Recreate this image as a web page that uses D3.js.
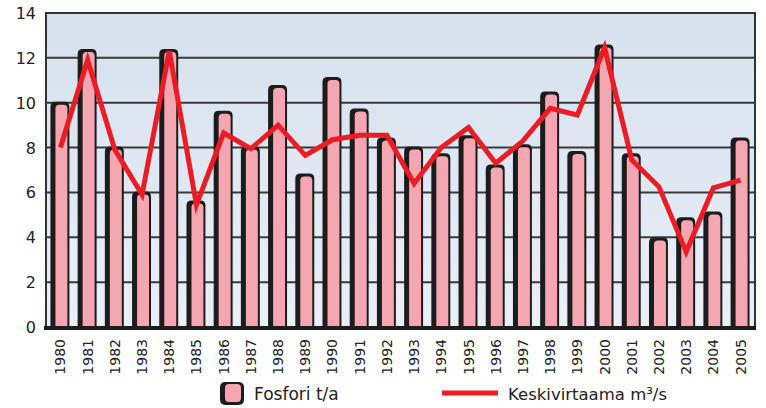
<!DOCTYPE html>
<html>
<head>
<meta charset="utf-8">
<script src="https://cdn.jsdelivr.net/npm/d3@7"></script>
<style>
  body { margin: 0; background: #fff; }
  text { font-family: "DejaVu Sans", sans-serif; fill: #222; }
</style>
</head>
<body>
<div id="chart"></div>
<script>
// data
const years = ["1980","1981","1982","1983","1984","1985","1986","1987","1988","1989",
  "1990","1991","1992","1993","1994","1995","1996","1997","1998","1999",
  "2000","2001","2002","2003","2004","2005"];
const fosfori = [10.0, 12.35, 8.0, 6.0, 12.35, 5.6, 9.6, 8.0, 10.75, 6.8,
  11.1, 9.7, 8.4, 8.0, 7.7, 8.5, 7.2, 8.1, 10.45, 7.8,
  12.55, 7.7, 3.95, 4.85, 5.1, 8.4];
const virtaama = [8.0, 11.9, 7.9, 5.9, 12.3, 5.45, 8.65, 7.95, 9.0, 7.65,
  8.35, 8.55, 8.55, 6.4, 8.0, 8.9, 7.3, 8.3, 9.75, 9.45,
  12.45, 7.45, 6.25, 3.35, 6.2, 6.55];
const yTicks = [0, 2, 4, 6, 8, 10, 12, 14];
const legendLabels = ["Fosfori t/a", "Keskivirtaama m³/s"];

const W = 766, H = 408;
const plot = { left: 46, right: 755, top: 13, bottom: 327 };

const svg = d3.select("#chart").append("svg")
  .attr("width", W).attr("height", H);

const x = d3.scaleBand()
  .domain(years)
  .range([plot.left, plot.right])
  .paddingInner(0.34)
  .paddingOuter(0.2);

const y = d3.scaleLinear()
  .domain([0, 14])
  .range([plot.bottom, plot.top]);

// background gradient
const defs = svg.append("defs");
const grad = defs.append("linearGradient").attr("id", "bg")
  .attr("x1", 0).attr("y1", 0).attr("x2", 0).attr("y2", 1);
grad.append("stop").attr("offset", "0%").attr("stop-color", "#d6e1ee");
grad.append("stop").attr("offset", "100%").attr("stop-color", "#e8eff7");

svg.append("rect")
  .attr("x", plot.left).attr("y", plot.top)
  .attr("width", plot.right - plot.left)
  .attr("height", plot.bottom - plot.top)
  .attr("fill", "url(#bg)");

// grid lines
svg.append("g").selectAll("line")
  .data(yTicks.filter(d => d > 0 && d < 14))
  .join("line")
  .attr("x1", plot.left).attr("x2", plot.right)
  .attr("y1", d => y(d)).attr("y2", d => y(d))
  .attr("stroke", "#3a3a3a")
  .attr("stroke-width", 2);

// y axis labels
svg.append("g").selectAll("text")
  .data(yTicks)
  .join("text")
  .attr("x", 36)
  .attr("y", d => y(d) + 6)
  .attr("text-anchor", "end")
  .style("font-size", "16px")
  .text(d => d);

// bars: dark shadow then pink body
const barPath = (x0, w, top, bottom, r) =>
  `M${x0},${bottom} L${x0},${top + r} Q${x0},${top} ${x0 + r},${top} ` +
  `L${x0 + w - r},${top} Q${x0 + w},${top} ${x0 + w},${top + r} L${x0 + w},${bottom} Z`;

const bars = svg.append("g");
bars.selectAll("path.shadow")
  .data(years)
  .join("path")
  .attr("class", "shadow")
  .attr("d", (d, i) => barPath(x(d) - 1, x.bandwidth() + 1, y(fosfori[i]) - 1, plot.bottom, 5))
  .attr("fill", "#1c1c1c");

bars.selectAll("path.body")
  .data(years)
  .join("path")
  .attr("class", "body")
  .attr("d", (d, i) => barPath(x(d) + 4, x.bandwidth() - 6, y(fosfori[i]) + 2, plot.bottom, 4))
  .attr("fill", "#f4a7b1");

// frame
svg.append("rect")
  .attr("x", plot.left).attr("y", plot.top)
  .attr("width", plot.right - plot.left)
  .attr("height", plot.bottom - plot.top)
  .attr("fill", "none")
  .attr("stroke", "#333")
  .attr("stroke-width", 2);

svg.append("line")
  .attr("x1", plot.left - 2).attr("x2", plot.right + 1)
  .attr("y1", plot.bottom + 1).attr("y2", plot.bottom + 1)
  .attr("stroke", "#1c1c1c")
  .attr("stroke-width", 4);

// line series
const line = d3.line()
  .x((d, i) => x(years[i]) + x.bandwidth() / 2)
  .y(d => y(d));

svg.append("path")
  .datum(virtaama)
  .attr("d", line)
  .attr("fill", "none")
  .attr("stroke", "#ec1c24")
  .attr("stroke-width", 5)
  .attr("stroke-linejoin", "miter");

// x labels
svg.append("g").selectAll("text")
  .data(years)
  .join("text")
  .attr("transform", d => `translate(${x(d) + x.bandwidth() / 2 + 5},339) rotate(-90)`)
  .attr("text-anchor", "end")
  .style("font-size", "14px")
  .text(d => d);

// legend
const legend = svg.append("g");
legend.append("rect")
  .attr("x", 220).attr("y", 382)
  .attr("width", 24).attr("height", 23)
  .attr("rx", 5)
  .attr("fill", "#1c1c1c");
legend.append("rect")
  .attr("x", 225).attr("y", 384)
  .attr("width", 16).attr("height", 18)
  .attr("rx", 4)
  .attr("fill", "#f4a7b1");
legend.append("text")
  .attr("x", 254).attr("y", 400)
  .style("font-size", "17px")
  .text(legendLabels[0]);
legend.append("line")
  .attr("x1", 442).attr("x2", 498)
  .attr("y1", 393).attr("y2", 393)
  .attr("stroke", "#ec1c24")
  .attr("stroke-width", 5);
legend.append("text")
  .attr("x", 508).attr("y", 400)
  .style("font-size", "16.5px")
  .text(legendLabels[1]);
</script>
</body>
</html>
